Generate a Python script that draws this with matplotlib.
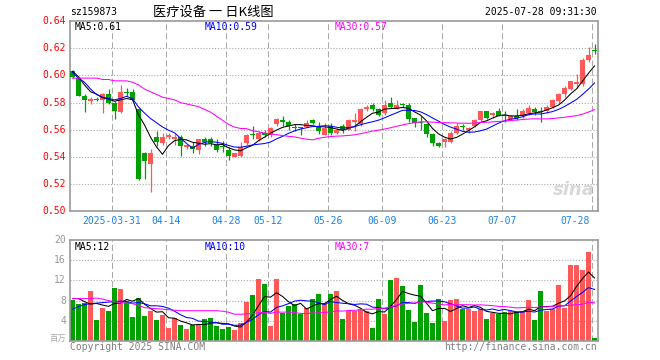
import numpy as np
import pandas as pd
import matplotlib
matplotlib.use('Agg')
import matplotlib.pyplot as plt

# ---------------- data ----------------
holidays = ['2025-04-04', '2025-05-01', '2025-05-02', '2025-05-05', '2025-06-02']
dates = [d.strftime('%Y-%m-%d') for d in pd.bdate_range('2025-03-20', '2025-07-28')
         if d.strftime('%Y-%m-%d') not in holidays]

opens = [0.603, 0.598, 0.585, 0.581, 0.583, 0.582, 0.586, 0.580, 0.573, 0.588,
         0.588, 0.575, 0.543, 0.535, 0.555, 0.550, 0.555, 0.553, 0.555, 0.547,
         0.548, 0.545, 0.553, 0.553, 0.549, 0.548, 0.545, 0.540, 0.541, 0.550,
         0.557, 0.553, 0.558, 0.556, 0.564, 0.567, 0.566, 0.562, 0.562, 0.562,
         0.567, 0.563, 0.556, 0.563, 0.558, 0.563, 0.560, 0.566, 0.564, 0.575,
         0.578, 0.575, 0.572, 0.580, 0.575, 0.579, 0.578, 0.569, 0.566, 0.564,
         0.557, 0.550, 0.551, 0.551, 0.558, 0.563, 0.560, 0.563, 0.567, 0.574,
         0.571, 0.574, 0.571, 0.568, 0.570, 0.570, 0.572, 0.575, 0.574, 0.574,
         0.577, 0.581, 0.586, 0.590, 0.594, 0.594, 0.611, 0.619]
highs = [0.604, 0.599, 0.586, 0.584, 0.584, 0.587, 0.590, 0.581, 0.593, 0.591,
         0.590, 0.576, 0.544, 0.546, 0.559, 0.558, 0.558, 0.557, 0.556, 0.549,
         0.551, 0.553, 0.555, 0.555, 0.553, 0.552, 0.547, 0.543, 0.551, 0.557,
         0.563, 0.559, 0.560, 0.562, 0.569, 0.570, 0.567, 0.564, 0.562, 0.567,
         0.568, 0.566, 0.565, 0.565, 0.561, 0.564, 0.568, 0.572, 0.576, 0.578,
         0.580, 0.576, 0.582, 0.584, 0.582, 0.580, 0.580, 0.569, 0.570, 0.565,
         0.558, 0.551, 0.554, 0.559, 0.565, 0.564, 0.562, 0.568, 0.574, 0.574,
         0.573, 0.576, 0.574, 0.571, 0.575, 0.575, 0.578, 0.577, 0.577, 0.578,
         0.583, 0.587, 0.592, 0.596, 0.601, 0.613, 0.621, 0.623]
lows = [0.598, 0.585, 0.573, 0.579, 0.581, 0.572, 0.579, 0.568, 0.572, 0.585,
        0.581, 0.523, 0.524, 0.514, 0.548, 0.549, 0.553, 0.549, 0.541, 0.546,
        0.543, 0.542, 0.548, 0.548, 0.544, 0.544, 0.538, 0.540, 0.540, 0.549,
        0.553, 0.552, 0.555, 0.555, 0.563, 0.563, 0.560, 0.559, 0.556, 0.562,
        0.564, 0.557, 0.556, 0.556, 0.557, 0.558, 0.560, 0.559, 0.563, 0.574,
        0.574, 0.570, 0.571, 0.576, 0.575, 0.577, 0.566, 0.562, 0.560, 0.555,
        0.548, 0.547, 0.547, 0.550, 0.557, 0.560, 0.558, 0.562, 0.566, 0.568,
        0.569, 0.570, 0.566, 0.567, 0.567, 0.569, 0.571, 0.571, 0.566, 0.572,
        0.576, 0.580, 0.584, 0.589, 0.591, 0.592, 0.610, 0.616]
closes = [0.599, 0.585, 0.582, 0.583, 0.582, 0.586, 0.580, 0.574, 0.588, 0.587,
          0.582, 0.524, 0.537, 0.543, 0.551, 0.555, 0.556, 0.555, 0.548, 0.549,
          0.546, 0.553, 0.551, 0.550, 0.545, 0.547, 0.541, 0.543, 0.547, 0.556,
          0.556, 0.558, 0.556, 0.561, 0.568, 0.566, 0.563, 0.561, 0.561, 0.565,
          0.565, 0.559, 0.561, 0.558, 0.560, 0.560, 0.567, 0.567, 0.575, 0.577,
          0.575, 0.571, 0.578, 0.577, 0.578, 0.578, 0.568, 0.565, 0.565, 0.557,
          0.550, 0.548, 0.553, 0.558, 0.563, 0.562, 0.561, 0.567, 0.574, 0.569,
          0.572, 0.570, 0.570, 0.570, 0.569, 0.574, 0.576, 0.573, 0.573, 0.577,
          0.582, 0.586, 0.591, 0.596, 0.595, 0.611, 0.615, 0.618]
volumes = [8.1, 7.3, 7.6, 10.0, 4.2, 6.5, 6.0, 10.5, 10.3, 7.8,
           4.8, 8.6, 5.0, 6.0, 4.2, 5.2, 2.6, 4.6, 3.2, 2.4,
           3.1, 3.1, 4.4, 4.6, 3.0, 2.3, 2.7, 2.2, 3.6, 7.8,
           9.2, 12.2, 11.2, 3.0, 12.2, 5.5, 7.0, 7.3, 5.3, 6.6,
           8.4, 9.3, 7.4, 9.3, 9.9, 4.3, 6.0, 5.9, 6.4, 6.0,
           2.6, 8.3, 5.4, 12.1, 12.5, 10.9, 6.1, 3.8, 11.1, 5.5,
           3.5, 8.3, 3.9, 8.1, 8.3, 6.4, 6.4, 5.9, 6.3, 4.3,
           5.5, 5.4, 5.8, 5.9, 5.8, 6.0, 8.1, 4.2, 9.9, 5.9,
           6.3, 11.1, 6.5, 15.0, 15.1, 14.1, 17.6, 0.6]

# moving-average values before a full window exists
ma5_lead = [0.603, 0.599, 0.593, 0.588]
ma10_lead = [0.602, 0.598, 0.595, 0.590, 0.586, 0.584, 0.583, 0.582, 0.583]
ma30_lead = [0.598, 0.598, 0.598, 0.598, 0.598, 0.597, 0.597, 0.596, 0.596, 0.596,
             0.595, 0.593, 0.590, 0.588, 0.586, 0.584, 0.583, 0.582, 0.580, 0.579,
             0.578, 0.577, 0.575, 0.573, 0.570, 0.567, 0.564, 0.562, 0.561]
vma5_lead = [8.4, 8.4, 7.8, 7.3]
vma10_lead = [6.3, 6.8, 7.2, 7.4, 7.5, 7.6, 7.7, 7.8, 7.9]
vma30_lead = [8.4, 8.4, 8.4, 8.4, 8.5, 8.3, 8.0, 7.8, 7.6, 7.5,
              7.4, 7.0, 6.6, 6.5, 6.4, 6.3, 6.2, 6.1, 6.0, 6.0,
              6.0, 6.0, 6.0, 6.0, 6.0, 5.9, 5.7, 5.3, 5.3]

tick_dates = ['2025-03-31', '2025-04-14', '2025-04-28', '2025-05-12', '2025-05-26',
              '2025-06-09', '2025-06-23', '2025-07-07', '2025-07-28']
tick_labels = ['2025-03-31', '04-14', '04-28', '05-12', '05-26',
               '06-09', '06-23', '07-07', '07-28']
price_ticks = [0.50, 0.52, 0.54, 0.56, 0.58, 0.60, 0.62, 0.64]
vol_ticks = [4, 8, 12, 16, 20]

# ---------------- helpers ----------------
def moving_avg(values, n, lead):
    s = pd.Series(values, dtype=float).rolling(n).mean().to_numpy()
    s[:len(lead)] = lead
    return s

W, H = 660, 360
RED = '#ff5858'
GREEN = '#00a000'
GRID = '#aaaaaa'
MONO = 'DejaVu Sans Mono'

fig = plt.figure(figsize=(W / 100, H / 100), dpi=100)
fig.patch.set_facecolor('white')

def px_axes(x0, y0, x1, y1):
    return fig.add_axes([x0 / W, 1 - y1 / H, (x1 - x0) / W, (y1 - y0) / H])

def ftext(x, y, s, **kw):
    kw.setdefault('family', MONO)
    kw.setdefault('fontsize', 7)
    fig.text(x / W, 1 - y / H, s, **kw)

n = len(closes)
x = np.arange(n)
o = np.array(opens); c = np.array(closes)
hi = np.array(highs); lo = np.array(lows)
colors = [RED if cc >= oo else GREEN for oo, cc in zip(o, c)]
XL = (-2.5 / 6, 87.58)
tick_pos = [dates.index(d) - 0.42 for d in tick_dates]

def style_axes(ax):
    for sp in ax.spines.values():
        sp.set_color('#9a9a9a')
        sp.set_linewidth(1.2)
    ax.set_xticks([]); ax.set_yticks([])
    ax.set_xlim(*XL)
    for tp in tick_pos:
        ax.axvline(tp, color=GRID, lw=0.75, ls=(0, (5.8, 2.9)), zorder=0)

# ---------------- price panel ----------------
ax = px_axes(70, 21, 598, 211.4)
style_axes(ax)
ax.set_ylim(0.50, 0.64)
for t in price_ticks[1:-1]:
    ax.axhline(t, color=GRID, lw=0.8, ls=(0, (1, 1.6)), zorder=0)

ax.vlines(x, lo, hi, colors=colors, lw=0.9, zorder=2)
body_h = np.maximum(np.abs(c - o), 0.0006)
ax.bar(x, body_h, bottom=np.minimum(o, c), width=0.8, color=colors, lw=0, zorder=3)

ax.plot(x, moving_avg(closes, 5, ma5_lead), color='black', lw=0.75, zorder=4)
ax.plot(x, moving_avg(closes, 10, ma10_lead), color='#0000ff', lw=0.75, zorder=4)
ax.plot(x, moving_avg(closes, 30, ma30_lead), color='#ff00ff', lw=0.75, zorder=4)

ax.text(0.955, 0.115, 'sina', transform=ax.transAxes, fontsize=13, fontweight='bold',
        fontstyle='italic', color='#c8c8c8', alpha=0.7, ha='center', va='center',
        family='DejaVu Sans')

for t in price_ticks:
    y = 211.4 - (t - 0.50) * 1360
    ftext(66, y, f'{t:.2f}', color='#ff0000', ha='right', va='center')

for tp, lab in zip(tick_pos, tick_labels):
    px = 72.5 + 6 * (tp + 0.42) - 2.5
    if lab == '07-28':
        ftext(px - 2, 221, lab, color='#1a82e6', ha='right', va='center')
    else:
        ftext(px, 221, lab, color='#1a82e6', ha='center', va='center')

# ---------------- volume panel ----------------
av = px_axes(70, 240, 598, 341)
style_axes(av)
av.set_ylim(0, 20)
for t in vol_ticks[:-1]:
    av.axhline(t, color=GRID, lw=0.8, ls=(0, (1, 1.6)), zorder=0)
av.bar(x, volumes, width=0.83, color=colors, lw=0, zorder=2)
av.plot(x, moving_avg(volumes, 5, vma5_lead), color='black', lw=0.75, zorder=4)
av.plot(x, moving_avg(volumes, 10, vma10_lead), color='#0000ff', lw=0.75, zorder=4)
av.plot(x, moving_avg(volumes, 30, vma30_lead), color='#ff00ff', lw=0.75, zorder=4)

for t in vol_ticks:
    y = 341 - t / 20 * 101
    ftext(66, y, f'{t}', color='#999999', ha='right', va='center')
ftext(66, 338, '百万', color='#aaaaaa', ha='right', va='center',
      family=['Noto Sans CJK SC', 'DejaVu Sans'], fontsize=6)

# ---------------- header / legends / footer ----------------
ftext(70, 12, 'sz159873', color='black', ha='left', va='center')
ftext(213.5, 12, '医疗设备 一 日K线图', color='black', ha='center', va='center',
      family=['Noto Sans CJK SC', 'DejaVu Sans'], fontsize=9.5)
ftext(597, 12, '2025-07-28 09:31:30', color='black', ha='right', va='center')

ftext(75, 26.5, 'MA5:0.61', color='black', ha='left', va='center')
ftext(205, 26.5, 'MA10:0.59', color='#0000ff', ha='left', va='center')
ftext(335, 26.5, 'MA30:0.57', color='#ff00ff', ha='left', va='center')

ftext(75, 246.5, 'MA5:12', color='black', ha='left', va='center')
ftext(205, 246.5, 'MA10:10', color='#0000ff', ha='left', va='center')
ftext(335, 246.5, 'MA30:7', color='#ff00ff', ha='left', va='center')

ftext(70, 347, 'Copyright 2025 SINA.COM', color='#808080', ha='left', va='center')
ftext(597, 347, 'http://finance.sina.com.cn', color='#808080', ha='right', va='center')

fig.savefig('out.png', dpi=100, facecolor='white')
